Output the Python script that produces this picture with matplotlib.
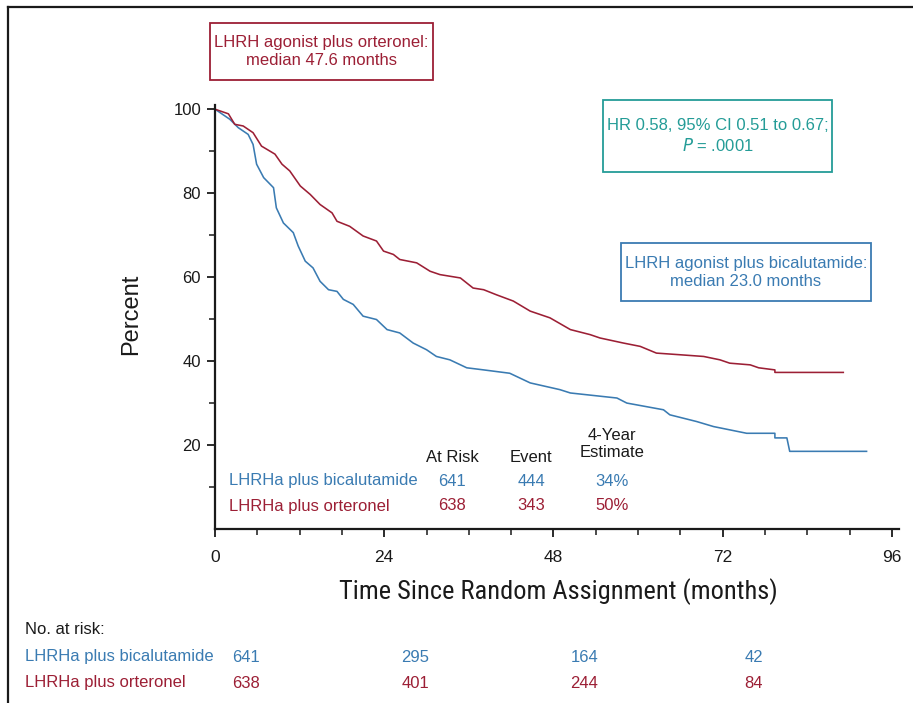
import numpy as np
import matplotlib
matplotlib.use("Agg")
import matplotlib.pyplot as plt
from matplotlib import font_manager
from matplotlib.lines import Line2D
from matplotlib.patches import Rectangle
from matplotlib.ticker import MultipleLocator, FixedLocator

# Kaplan-Meier estimates (months, percent) for each arm
bica_months = [0, 2.1, 3.3, 4.7, 5.4, 5.9, 6.9, 8.3, 8.7, 9.7, 11.1, 11.8, 12.8,
               13.9, 14.9, 16.1, 17.3, 18.2, 19.6, 21.0, 22.9, 24.4, 26.2, 28.1,
               30.0, 31.4, 33.3, 35.7, 38.1, 41.8, 44.7, 48.9, 50.4, 57.0, 58.4,
               63.6, 64.5, 68.3, 70.7, 75.4, 79.4, 79.4, 81.1, 81.5, 92.4]
bica_pct = [100, 97.6, 95.6, 94.0, 91.6, 86.9, 83.7, 81.3, 76.5, 72.9, 70.6, 67.4,
            63.8, 62.2, 59.0, 57.0, 56.6, 54.7, 53.5, 50.7, 49.9, 47.5, 46.7, 44.3,
            42.7, 41.1, 40.3, 38.4, 37.9, 37.1, 34.8, 33.2, 32.4, 31.2, 30.0, 28.4,
            27.2, 25.6, 24.4, 22.8, 22.8, 21.7, 21.7, 18.5, 18.5]

orte_months = [0, 1.9, 2.8, 4.0, 5.4, 6.6, 8.5, 9.5, 10.6, 12.1, 13.5, 14.9, 16.6,
               17.3, 19.1, 21.0, 22.9, 23.9, 25.3, 26.2, 28.6, 30.5, 31.9, 34.8,
               36.6, 38.1, 39.9, 42.3, 44.7, 47.5, 50.4, 53.2, 54.6, 57.9, 60.3,
               62.6, 66.0, 69.3, 71.6, 73.0, 75.9, 77.1, 79.4, 79.4, 89.1]
orte_pct = [100, 98.9, 96.4, 96.0, 94.4, 91.2, 89.3, 86.9, 85.3, 81.7, 79.7, 77.3,
            75.3, 73.3, 72.1, 69.8, 68.6, 66.2, 65.4, 64.2, 63.4, 61.4, 60.6, 59.8,
            57.4, 57.0, 55.8, 54.3, 51.9, 50.3, 47.5, 46.3, 45.5, 44.3, 43.5, 41.9,
            41.5, 41.1, 40.3, 39.5, 39.1, 38.4, 37.9, 37.3, 37.3]

arm_short = ["LHRHa plus bicalutamide", "LHRHa plus orteronel"]
summary_at_risk = ["641", "638"]
summary_events = ["444", "343"]
summary_4yr = ["34%", "50%"]

risk_months = [0, 24, 48, 72]
risk_bica = [641, 295, 164, 42]
risk_orte = [638, 401, 244, 84]

RED = "#9c1f35"
BLUE = "#3a7bb2"
TEAL = "#249c97"
INK = "#1a1a1a"

installed = {f.name for f in font_manager.fontManager.ttflist}


def pick(*names):
    for n in names:
        if n in installed:
            return n
    return "DejaVu Sans"


REG = pick("Liberation Sans", "Arial", "DejaVu Sans")
NARROW = pick("Liberation Sans Narrow", "DejaVu Sans Condensed", "Roboto Condensed", REG)

fig = plt.figure(figsize=(9.13, 7.03), dpi=100)
W, H = 913, 703


def fx(px):
    return px / W


def fy(py):
    return 1 - py / H


ax = fig.add_axes([fx(215), fy(529), fx(899) - fx(215), fy(105) - fy(529)])

ax.plot(bica_months, bica_pct, color=BLUE, lw=1.15)
ax.plot(orte_months, orte_pct, color=RED, lw=1.15)

ax.set_xlim(0, 97)
ax.set_ylim(0, 101)
ax.xaxis.set_major_locator(MultipleLocator(24))
ax.xaxis.set_minor_locator(MultipleLocator(6))
ax.yaxis.set_major_locator(FixedLocator([20, 40, 60, 80, 100]))
ax.yaxis.set_minor_locator(FixedLocator([10, 30, 50, 70, 90]))

for s in ["top", "right"]:
    ax.spines[s].set_visible(False)
for s in ["left", "bottom"]:
    ax.spines[s].set_linewidth(1.6)
    ax.spines[s].set_color(INK)

ax.tick_params(which="major", length=6, width=1.3, color=INK)
ax.tick_params(which="minor", length=4, width=1.1, color=INK)
ax.tick_params(axis="x", pad=9)
ax.tick_params(axis="y", pad=4)
for lab in ax.get_yticklabels():
    lab.set_fontfamily(REG)
    lab.set_fontsize(12)
    lab.set_color(INK)
for lab in ax.get_xticklabels():
    lab.set_fontfamily(REG)
    lab.set_fontsize(12.5)
    lab.set_color(INK)

fig.text(fx(131), fy(314), "Percent", rotation=90, ha="center", va="center",
         fontfamily=REG, fontsize=17, color=INK)
fig.text(fx(558), fy(592), "Time Since Random Assignment (months)", ha="center",
         va="center", fontfamily=NARROW, fontsize=19, color=INK)

# summary table inside the plot
col_x = [452, 531, 612]
fig.text(fx(col_x[0]), fy(457), "At Risk", ha="center", va="center",
         fontfamily=REG, fontsize=12, color=INK)
fig.text(fx(col_x[1]), fy(458), "Event", ha="center", va="center",
         fontfamily=REG, fontsize=12, color=INK)
fig.text(fx(col_x[2]), fy(444), "4-Year\nEstimate", ha="center", va="center",
         fontfamily=REG, fontsize=12, color=INK, linespacing=1.15)
for i, (name, c) in enumerate(zip(arm_short, [BLUE, RED])):
    y = fy(481 + 25 * i)
    fig.text(fx(229), y, name, ha="left", va="center", fontfamily=REG,
             fontsize=12, color=c)
    for x, v in zip(col_x, [summary_at_risk[i], summary_events[i], summary_4yr[i]]):
        fig.text(fx(x), y, v, ha="center", va="center", fontfamily=REG,
                 fontsize=12, color=c)


# annotation boxes
def box(x0, y0, x1, y1, lines, color):
    fig.patches.append(Rectangle((fx(x0), fy(y1)), fx(x1) - fx(x0), fy(y0) - fy(y1),
                                 transform=fig.transFigure, fill=False,
                                 edgecolor=color, lw=1.3))
    cx = fx((x0 + x1) / 2)
    cy = fy((y0 + y1) / 2)
    fig.text(cx, cy, lines, ha="center", va="center", fontfamily=REG,
             fontsize=12, color=color, linespacing=1.25)


box(210, 23, 433, 80, "LHRH agonist plus orteronel:\nmedian 47.6 months", RED)
box(603, 100, 832, 172, "HR 0.58, 95% CI 0.51 to 0.67;\n$P$ = .0001", TEAL)
box(621, 243, 871, 301, "LHRH agonist plus bicalutamide:\nmedian 23.0 months", BLUE)

# number at risk below the axis
fig.text(fx(25), fy(630), "No. at risk:", ha="left", va="center",
         fontfamily=REG, fontsize=12, color=INK)
for i, (name, counts, c) in enumerate(zip(arm_short, [risk_bica, risk_orte], [BLUE, RED])):
    y = fy(657 + 26 * i)
    fig.text(fx(25), y, name, ha="left", va="center", fontfamily=REG,
             fontsize=12, color=c)
    for m, n in zip(risk_months, counts):
        xd = ax.transData.transform((m, 0))[0]
        fig.text((xd + 31) / W, y, str(n), ha="center", va="center",
                 fontfamily=REG, fontsize=12, color=c)

# frame lines at top and left edge
fig.lines.append(Line2D([fx(8), 1], [fy(7), fy(7)], transform=fig.transFigure,
                        color=INK, lw=1.6))
fig.lines.append(Line2D([fx(8), fx(8)], [fy(7), 0], transform=fig.transFigure,
                        color=INK, lw=1.6))

fig.savefig("out.png", dpi=100)
